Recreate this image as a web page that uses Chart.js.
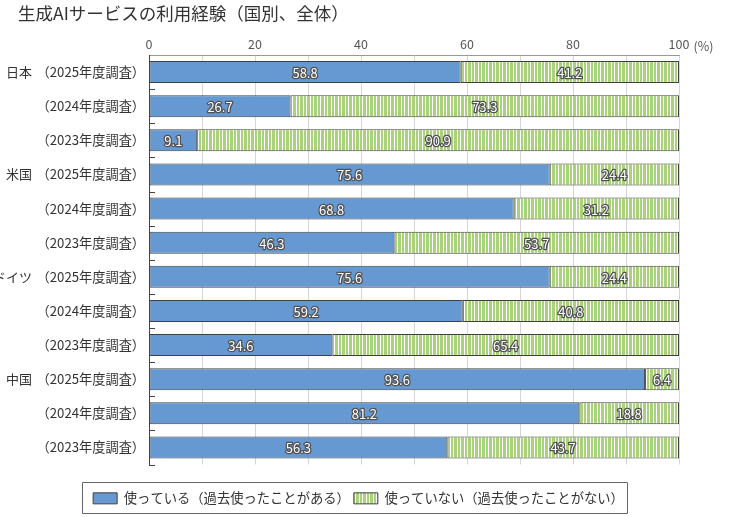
<!DOCTYPE html>
<html>
<head>
<meta charset="utf-8">
<script src="https://cdn.jsdelivr.net/npm/chart.js@4.4.1/dist/chart.umd.min.js"></script>
<style>
  html, body { margin: 0; padding: 0; background: #fff; }
  #wrap { width: 740px; height: 517px; position: relative; }
</style>
</head>
<body>
<div id="wrap"><canvas id="grafica"></canvas></div>
<script>
// datos
const countries = ['日本', '', '', '米国', '', '', 'ドイツ', '', '', '中国', '', ''];
const surveys = ['（2025年度調査）', '（2024年度調査）', '（2023年度調査）',
                 '（2025年度調査）', '（2024年度調査）', '（2023年度調査）',
                 '（2025年度調査）', '（2024年度調査）', '（2023年度調査）',
                 '（2025年度調査）', '（2024年度調査）', '（2023年度調査）'];
const used = [58.8, 26.7, 9.1, 75.6, 68.8, 46.3, 75.6, 59.2, 34.6, 93.6, 81.2, 56.3];
const notUsed = [41.2, 73.3, 90.9, 24.4, 31.2, 53.7, 24.4, 40.8, 65.4, 6.4, 18.8, 43.7];
const seriesNames = ['使っている（過去使ったことがある）', '使っていない（過去使ったことがない）'];
const xTicks = [0, 20, 40, 60, 80, 100];

const FONT = '"Noto Sans CJK JP", "Noto Sans", sans-serif';

// rayas verticales blancas sobre verde
function stripePattern() {
    const c = document.createElement('canvas');
    c.width = 7; c.height = 4;
    const g = c.getContext('2d');
    g.fillStyle = '#a9d27b';
    g.fillRect(0, 0, 7, 4);
    g.fillStyle = '#ffffff';
    g.fillRect(2, 0, 1, 4);
    g.fillRect(5, 0, 1, 4);
    return g.createPattern(c, 'repeat');
}

const LEGEND_SHIFT = 19;

const extras = {
    id: 'extras',
    afterUpdate(chart) {
        // la leyenda va un poco más a la derecha que el centro del área
        const lg = chart.legend;
        if (!lg) return;
        lg.left += LEGEND_SHIFT;
        lg.right += LEGEND_SHIFT;
        lg.legendHitBoxes.forEach(b => { b.left += LEGEND_SHIFT; });
    },
    afterDraw(chart) {
        const ctx = chart.ctx;
        const area = chart.chartArea;
        const yScale = chart.scales.y;
        const xScale = chart.scales.x;
        ctx.save();

        // título
        ctx.font = '17.5px ' + FONT;
        ctx.fillStyle = '#333';
        ctx.textAlign = 'left';
        ctx.textBaseline = 'middle';
        ctx.fillText('生成AIサービスの利用経験（国別、全体）', 18, 13);

        // (%) junto al 100
        ctx.font = '12.5px ' + FONT;
        ctx.fillStyle = '#555';
        ctx.textBaseline = 'bottom';
        const x100 = xScale.getPixelForValue(100);
        ctx.fillText('(%)', x100 + ctx.measureText('100').width / 2 + 4, area.top - 3);

        // nombres de país
        ctx.font = '13px ' + FONT;
        ctx.fillStyle = '#333';
        ctx.textAlign = 'right';
        ctx.textBaseline = 'middle';
        countries.forEach((c, i) => {
            if (c) ctx.fillText(c, 32, yScale.getPixelForValue(i));
        });

        // marcas del eje y hacia adentro
        const band = (area.bottom - area.top) / surveys.length;
        ctx.strokeStyle = '#444';
        ctx.lineWidth = 1;
        for (let i = 1; i <= surveys.length; i++) {
            const y = Math.round(area.top + i * band) + 0.5;
            ctx.beginPath();
            ctx.moveTo(area.left, y);
            ctx.lineTo(area.left + 6, y);
            ctx.stroke();
        }

        // valores dentro de las barras
        ctx.font = '13px ' + FONT;
        ctx.textAlign = 'center';
        ctx.textBaseline = 'middle';
        ctx.lineJoin = 'round';
        chart.data.datasets.forEach((ds, di) => {
            chart.getDatasetMeta(di).data.forEach((el, i) => {
                const cx = (el.x + el.base) / 2;
                const txt = ds.data[i].toFixed(1);
                ctx.strokeStyle = '#505050';
                ctx.lineWidth = 2.5;
                ctx.strokeText(txt, cx, el.y + 1);
                ctx.fillStyle = '#fff';
                ctx.fillText(txt, cx, el.y + 1);
            });
        });

        // marco de la leyenda
        const boxes = chart.legend.legendHitBoxes;
        if (boxes && boxes.length) {
            const minX = Math.min(...boxes.map(b => b.left));
            const maxX = Math.max(...boxes.map(b => b.left + b.width));
            const minY = Math.min(...boxes.map(b => b.top));
            const maxY = Math.max(...boxes.map(b => b.top + b.height));
            ctx.strokeStyle = '#666';
            ctx.lineWidth = 1;
            const x0 = Math.round(minX - 11), y0 = Math.round(minY - 10);
            ctx.strokeRect(x0 + 0.5, y0 + 0.5,
                           Math.round(maxX + 3) - x0, Math.round(maxY + 8) - y0);
        }
        ctx.restore();
    }
};

const ctx = document.getElementById('grafica').getContext('2d');
new Chart(ctx, {
    type: 'bar',
    data: {
        labels: surveys,
        datasets: [{
            label: seriesNames[0],
            data: used,
            backgroundColor: '#6699d1',
            borderColor: '#404040',
            borderWidth: 1,
            borderSkipped: false,
            barPercentage: 0.645,
            categoryPercentage: 1
        }, {
            label: seriesNames[1],
            data: notUsed,
            backgroundColor: stripePattern(),
            borderColor: '#404040',
            borderWidth: 1,
            borderSkipped: false,
            barPercentage: 0.645,
            categoryPercentage: 1
        }]
    },
    options: {
        indexAxis: 'y',
        responsive: true,
        maintainAspectRatio: false,
        animation: false,
        layout: { padding: { left: 0, right: 61, top: 0, bottom: 2 } },
        scales: {
            x: {
                position: 'top',
                stacked: true,
                min: 0,
                max: 100,
                afterFit(scale) { scale.height = 55; },
                afterBuildTicks(scale) {
                    scale.ticks = [];
                    for (let v = 0; v <= 100; v += 10) scale.ticks.push({ value: v });
                },
                ticks: {
                    autoSkip: false,
                    maxRotation: 0,
                    padding: 3,
                    color: '#555',
                    font: { family: FONT, size: 12.5 },
                    callback: v => xTicks.includes(v) ? String(v) : ''
                },
                grid: { color: '#d6d6d6', drawTicks: false, lineWidth: 1 },
                border: { color: '#999' }
            },
            y: {
                stacked: true,
                afterFit(scale) { scale.width = 149; },
                ticks: {
                    padding: 4,
                    color: '#333',
                    font: { family: FONT, size: 13.2 }
                },
                grid: { display: false, drawTicks: false },
                border: { display: true, color: '#444' }
            }
        },
        plugins: {
            legend: {
                position: 'bottom',
                title: { display: true, text: ' ', font: { size: 1 }, padding: { top: 11, bottom: 11 } },
                labels: {
                    boxWidth: 24,
                    boxHeight: 11,
                    padding: 4,
                    color: '#333',
                    font: { family: FONT, size: 13.3 }
                }
            },
            tooltip: { enabled: false }
        }
    },
    plugins: [extras]
});
</script>
</body>
</html>
